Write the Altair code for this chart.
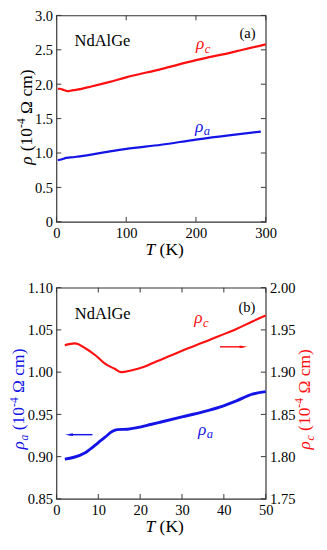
import altair as alt
import pandas as pd

# ---------------- data ----------------
top_T_a = [2, 7, 10, 13.4, 20, 30, 50, 75, 100, 150, 200, 250, 293]
top_rho_a = [0.897, 0.905, 0.9165, 0.930, 0.935, 0.947, 0.977, 1.02, 1.06, 1.12, 1.195, 1.26, 1.31]
top_T_c = [2, 5, 9, 13, 16, 20, 25, 30, 50, 75, 100, 150, 200, 250, 300]
top_rho_c = [1.932, 1.934, 1.921, 1.907, 1.900, 1.905, 1.914, 1.921, 1.967, 2.03, 2.10, 2.22, 2.35, 2.46, 2.58]

bot_T_a = [2, 4, 7, 10, 11.6, 13.4, 14.5, 17, 20, 22.5, 25, 30, 35, 39, 43, 46.8, 50]
bot_rho_a = [0.897, 0.899, 0.905, 0.9165, 0.923, 0.930, 0.932, 0.9325, 0.935, 0.938, 0.941,
             0.947, 0.953, 0.9586, 0.966, 0.9739, 0.977]
bot_T_c = [2, 4.4, 7, 9.3, 11.6, 13.9, 15.5, 17.8, 20.8, 24, 27.5, 31.3, 35, 39, 43, 46.8, 50]
bot_rho_c = [1.932, 1.934, 1.928, 1.920, 1.910, 1.904, 1.900, 1.902, 1.906, 1.913, 1.920,
             1.928, 1.935, 1.943, 1.951, 1.960, 1.967]

top_xticks = [0, 100, 200, 300]
top_yticks = [0, 0.5, 1.0, 1.5, 2.0, 2.5, 3.0]
bot_xticks = [0, 10, 20, 30, 40, 50]
bot_yticks_a = [0.85, 0.90, 0.95, 1.00, 1.05, 1.10]
bot_yticks_c = [1.75, 1.80, 1.85, 1.90, 1.95, 2.00]

# ---------------- style ----------------
FONT = "Liberation Serif"
RED = "#ff1010"
BLUE = "#1414e6"
FRAME = "#333333"
W = 216
HT, HB = 213, 218
TK = 5


def axis(values, orient, fmt=None, expr=None):
    kw = dict(values=values, orient=orient, ticks=False, domain=False, grid=False,
              labelFont=FONT, labelFontSize=15, labelColor="black", labelPadding=4,
              labelOverlap=False, labelFlush=False, title=None)
    if fmt:
        kw["format"] = fmt
    if expr:
        kw["labelExpr"] = expr
    return alt.Axis(**kw)


def make_x(domain, ax):
    sc = alt.Scale(domain=domain, nice=False, zero=False)
    return lambda f: alt.X(f"{f}:Q", scale=sc, axis=ax)


def make_y(domain, ax):
    sc = alt.Scale(domain=domain, nice=False, zero=False)
    return lambda f: alt.Y(f"{f}:Q", scale=sc, axis=ax)


def one():
    return pd.DataFrame({"k": [0]})


def line(Ts, vs, X, Y, color, sw):
    df = pd.DataFrame({"T": Ts, "v": vs})
    return alt.Chart(df).mark_line(color=color, strokeWidth=sw, interpolate="monotone").encode(
        x=X("T"), y=Y("v"))


def ticks_x(vals, X, h):
    df = pd.DataFrame({"T": vals})
    b = alt.Chart(df).mark_rule(color=FRAME, strokeWidth=1)
    return [b.encode(x=X("T"), y=alt.value(h), y2=alt.value(h - TK)),
            b.encode(x=X("T"), y=alt.value(0), y2=alt.value(TK))]


def ticks_y(vals, Y, side):
    df = pd.DataFrame({"v": vals})
    b = alt.Chart(df).mark_rule(color=FRAME, strokeWidth=1)
    if side == "left":
        return [b.encode(y=Y("v"), x=alt.value(0), x2=alt.value(TK))]
    return [b.encode(y=Y("v"), x=alt.value(W), x2=alt.value(W - TK))]


def text_at(X, Y, T, v, text, size, color, style="normal", align="left"):
    df = pd.DataFrame({"T": [T], "v": [v]})
    return alt.Chart(df).mark_text(text=text, font=FONT, fontSize=size, fontStyle=style,
                                   color=color, align=align, baseline="alphabetic").encode(
        x=X("T"), y=Y("v"))


def arrow(T1, T2, v, headT, shape, X, Y, color):
    df = pd.DataFrame({"T": [T1], "T2": [T2], "v": [v]})
    shaft = alt.Chart(df).mark_rule(color=color, strokeWidth=1.5).encode(
        x=X("T"), x2=alt.X2("T2"), y=Y("v"))
    hdf = pd.DataFrame({"T": [headT], "v": [v]})
    head = alt.Chart(hdf).mark_point(shape=shape, filled=True, size=64, color=color,
                                     opacity=1, strokeWidth=0).encode(x=X("T"), y=Y("v"))
    return [shaft, head]


def ptext(px, py, text, size, color, style="normal", angle=0):
    kw = dict(text=text, font=FONT, fontSize=size, fontStyle=style, color=color,
              align="left", baseline="alphabetic")
    if angle:
        kw["angle"] = angle
    return alt.Chart(one()).mark_text(**kw).encode(x=alt.value(px), y=alt.value(py))


def vtitle(x0, y0, color, sub=None, subw=0.5):
    L = []
    y = y0
    L.append(ptext(x0, y, "ρ", 18, color, "italic", 270))
    y -= 18 * 0.52
    if sub:
        L.append(ptext(x0 + 4, y, sub, 12, color, "italic", 270))
        y -= 12 * subw
    y -= 18 * 0.25
    L.append(ptext(x0, y, "(10", 18, color, "normal", 270))
    y -= 18 * 1.333
    L.append(ptext(x0 - 7, y, "-4", 12, color, "normal", 270))
    y -= 12 * 0.833
    y -= 18 * 0.25
    L.append(ptext(x0, y, "Ω cm)", 18, color, "normal", 270))
    return L


def xtitle(h):
    return [ptext(92, h + 34, "T", 18, "black", "italic"),
            ptext(106.5, h + 34, "(K)", 18, "black", "normal")]


# ---------------- top panel ----------------
Xt = make_x([0, 300], axis(top_xticks, "bottom", fmt="d"))
Yt = make_y([0, 3], axis(top_yticks, "left",
                          expr="datum.value == 0 ? '0' : format(datum.value, '.1f')"))

top_layers = (ticks_x(top_xticks, Xt, HT) + ticks_y(top_yticks, Yt, "left")
              + ticks_y(top_yticks, Yt, "right")
              + [line(top_T_c, top_rho_c, Xt, Yt, RED, 2.3),
                 line(top_T_a, top_rho_a, Xt, Yt, BLUE, 2.3),
                 text_at(Xt, Yt, 26, 2.56, "NdAlGe", 17, "black"),
                 text_at(Xt, Yt, 274, 2.67, "(a)", 15, "black", align="center"),
                 text_at(Xt, Yt, 200, 2.505, "ρ", 18, RED, "italic"),
                 text_at(Xt, Yt, 212.5, 2.46, "c", 13, RED, "italic"),
                 text_at(Xt, Yt, 198.6, 1.307, "ρ", 18, BLUE, "italic"),
                 text_at(Xt, Yt, 211, 1.259, "a", 13, BLUE, "italic")]
              + vtitle(-25, 154, "black") + xtitle(HT))
top = alt.layer(*top_layers).properties(width=W, height=HT)

# ---------------- bottom panel ----------------
Xb = make_x([0, 50], axis(bot_xticks, "bottom", fmt="d"))
Ya = make_y([0.85, 1.10], axis(bot_yticks_a, "left", fmt=".2f"))
Yc = make_y([1.75, 2.00], axis(bot_yticks_c, "right", fmt=".2f"))

left_layers = (ticks_x(bot_xticks, Xb, HB) + ticks_y(bot_yticks_a, Ya, "left")
               + [line(bot_T_a, bot_rho_a, Xb, Ya, BLUE, 3),
                  text_at(Xb, Ya, 4.4, 1.0625, "NdAlGe", 17, "black"),
                  text_at(Xb, Ya, 45.5, 1.0713, "(b)", 15, "black", align="center"),
                  text_at(Xb, Ya, 33.8, 0.926, "ρ", 18, BLUE, "italic"),
                  text_at(Xb, Ya, 35.9, 0.9222, "a", 13, BLUE, "italic")]
               + arrow(3.0, 8.6, 0.926, 3.0, "M -1 0 L 1 -0.35 L 1 0.35 Z", Xb, Ya, BLUE)
               + vtitle(-33, 167, BLUE, "a", 0.5) + vtitle(W + 46, 167, RED, "c", 0.444)
               + xtitle(HB))
right_layers = (ticks_y(bot_yticks_c, Yc, "right")
                + [line(bot_T_c, bot_rho_c, Xb, Yc, RED, 2.2),
                   text_at(Xb, Yc, 32.9, 1.9576, "ρ", 18, RED, "italic"),
                   text_at(Xb, Yc, 35.0, 1.9536, "c", 13, RED, "italic")]
                + arrow(39.1, 44.7, 1.930, 44.7, "M 1 0 L -1 -0.35 L -1 0.35 Z", Xb, Yc, RED))

bottom = alt.layer(alt.layer(*left_layers), alt.layer(*right_layers)).resolve_scale(
    y="independent").properties(width=W, height=HB)

chart = alt.vconcat(top, bottom, spacing=21).properties(
    padding={"left": -1, "top": -9, "right": 2, "bottom": 2}
).configure_view(stroke=FRAME, strokeWidth=1.2)

chart.save("out.html", embed_options={"renderer": "svg", "actions": False})
